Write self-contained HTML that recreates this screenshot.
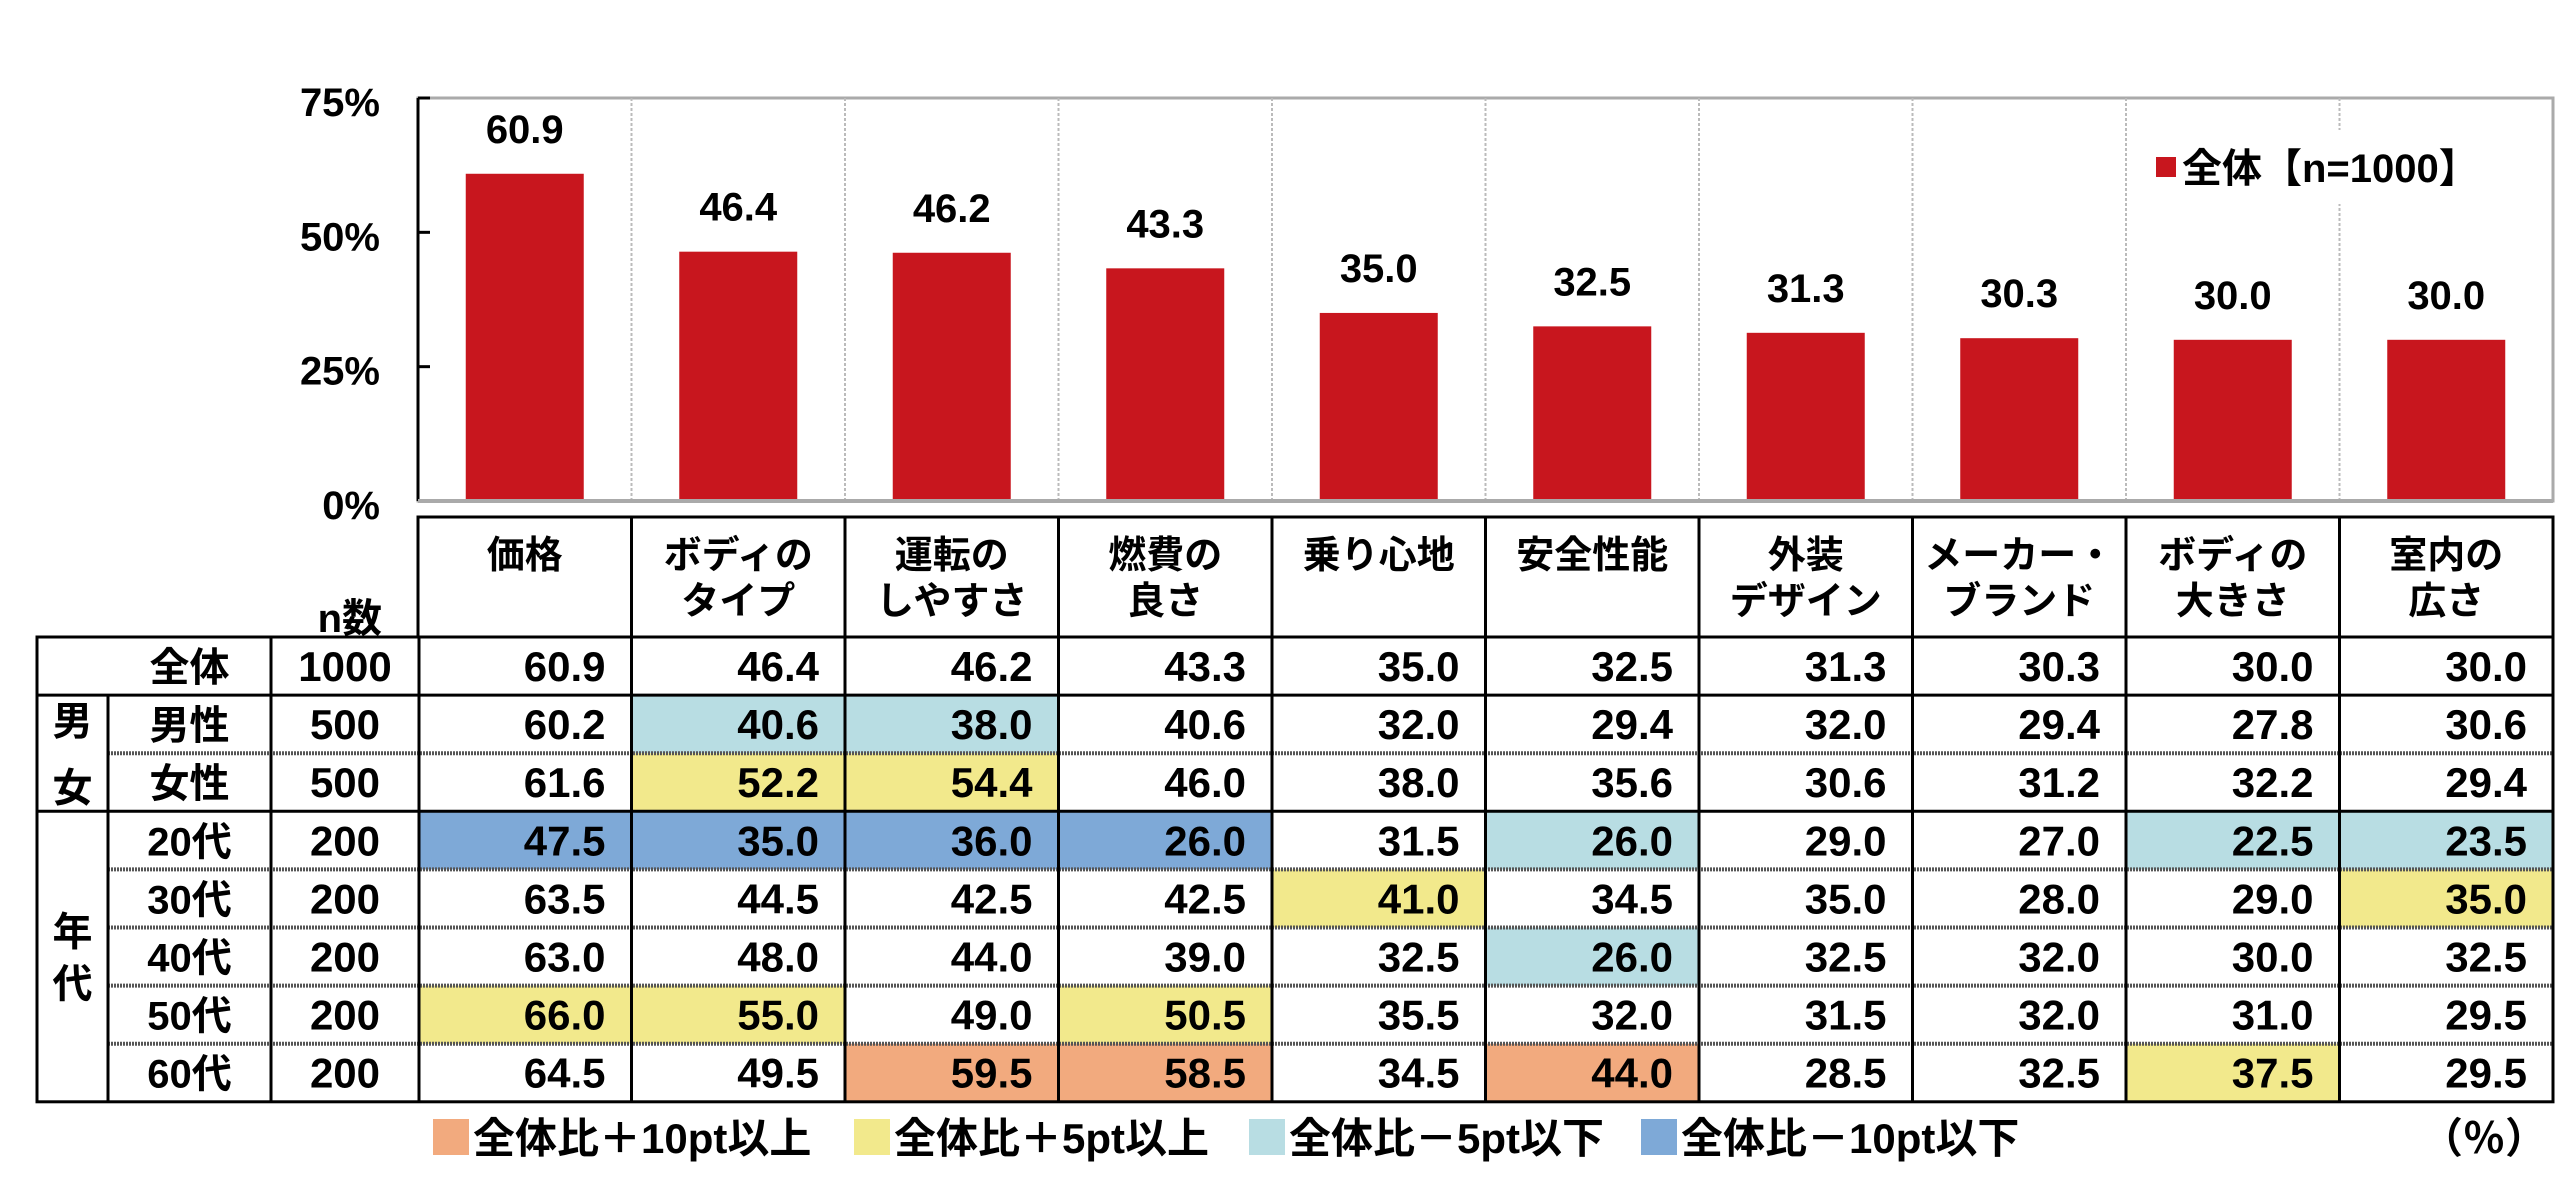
<!DOCTYPE html>
<html><head><meta charset="utf-8"><style>
html,body{margin:0;padding:0;background:#fff;}
svg{display:block;font-family:"Liberation Sans","Noto Sans CJK JP",sans-serif;font-weight:bold;}
</style></head><body>
<svg id="c" width="2560" height="1190" viewBox="0 0 2560 1190" xmlns="http://www.w3.org/2000/svg"></svg>
<script>
const categories=["価格","ボディの|タイプ","運転の|しやすさ","燃費の|良さ","乗り心地","安全性能","外装|デザイン","メーカー・|ブランド","ボディの|大きさ","室内の|広さ"];
const overallValues=[60.9,46.4,46.2,43.3,35.0,32.5,31.3,30.3,30.0,30.0];
const tickValues=[0,25,50,75];
const tickLabels=["0%","25%","50%","75%"];
const rowLabels=["全体","男性","女性","20代","30代","40代","50代","60代"];
const rowN=["1000","500","500","200","200","200","200","200"];
const rowMale=[60.2,40.6,38.0,40.6,32.0,29.4,32.0,29.4,27.8,30.6];
const rowFemale=[61.6,52.2,54.4,46.0,38.0,35.6,30.6,31.2,32.2,29.4];
const row20=[47.5,35.0,36.0,26.0,31.5,26.0,29.0,27.0,22.5,23.5];
const row30=[63.5,44.5,42.5,42.5,41.0,34.5,35.0,28.0,29.0,35.0];
const row40=[63.0,48.0,44.0,39.0,32.5,26.0,32.5,32.0,30.0,32.5];
const row50=[66.0,55.0,49.0,50.5,35.5,32.0,31.5,32.0,31.0,29.5];
const row60=[64.5,49.5,59.5,58.5,34.5,44.0,28.5,32.5,37.5,29.5];
const tableRows=[overallValues,rowMale,rowFemale,row20,row30,row40,row50,row60];
const legendLabels=["全体比＋10pt以上","全体比＋5pt以上","全体比－5pt以下","全体比－10pt以下"];

const svg=document.getElementById('c');
const NS="http://www.w3.org/2000/svg";
function mk(tag,attrs,parent){const e=document.createElementNS(NS,tag);for(const k in attrs)e.setAttribute(k,attrs[k]);(parent||svg).appendChild(e);return e;}
const PL=418,PR=2553,PT=98,PB=501,YMAX=75;
const colW=(PR-PL)/categories.length;
function y(v){return PB-(v/YMAX)*(PB-PT);}
function xc(i){return PL+colW*i+colW/2;}

mk('rect',{x:PL,y:PT,width:PR-PL,height:PB-PT,fill:'#fff',stroke:'#aaa','stroke-width':3});
for(let i=1;i<categories.length;i++){
  const g=mk('line',{x1:PL+colW*i,x2:PL+colW*i,y1:PT,y2:PB,stroke:'#bbb','stroke-width':2,'stroke-dasharray':'3,2'});
  
  
}
mk('line',{x1:PL,x2:PL,y1:PT,y2:PB,stroke:'#000','stroke-width':3});
tickValues.forEach((v,i)=>{
  mk('line',{x1:PL,x2:PL+12,y1:y(v),y2:y(v),stroke:'#000','stroke-width':3});
  const t=mk('text',{x:380,y:y(v)+18,'text-anchor':'end','font-size':40});
  t.textContent=tickLabels[i];
  
  
});
const lg=mk('g',{});


mk('rect',{x:2140,y:130,width:400,height:74,fill:'#fff'},lg);
mk('rect',{x:2156,y:157,width:20,height:20,fill:'#c8161e'},lg);
const lt=mk('text',{x:2182,y:182,'font-size':40},lg);lt.textContent="全体【n=1000】";

overallValues.forEach((v,i)=>{
  const b=mk('rect',{x:xc(i)-59,y:y(v),width:118,height:PB-y(v),fill:'#c8161e'});
  
  
  const t=mk('text',{x:xc(i),y:y(v)-31,'text-anchor':'middle','font-size':40});
  t.textContent=v.toFixed(1);
  
  
});
mk('line',{x1:PL,x2:PR,y1:PB,y2:PB,stroke:'#aaa','stroke-width':4});

const HT=517,HB=637;
mk('rect',{x:PL,y:HT,width:PR-PL,height:HB-HT,fill:'#fff',stroke:'#000','stroke-width':3});
categories.forEach((c,i)=>{
  if(i>0)mk('line',{x1:PL+colW*i,x2:PL+colW*i,y1:HT,y2:HB,stroke:'#000','stroke-width':3});
  c.split('|').forEach((ln,j)=>{
    const t=mk('text',{x:xc(i),y:568+j*46,'text-anchor':'middle','font-size':38});
    t.textContent=ln;
    
    
  });
});
const nl=mk('text',{x:382,y:632,'text-anchor':'end','font-size':40});nl.textContent="n数";



const TL=37,GC=108,LC=271,NC=419,TT=637,RH=58.1;
const colors={o:'#f2aa7e',y:'#f2e98c',lb:'#b8dde3',b:'#7ea9d7'};
function cls(v,base){const d=v-base;if(d>=10)return colors.o;if(d>=5)return colors.y;if(d<=-10)return colors.b;if(d<=-5)return colors.lb;return null;}
tableRows.forEach((row,r)=>{
  const ry=TT+RH*r;
  row.forEach((v,i)=>{
    const f=r>0?cls(v,overallValues[i]):null;
    if(f){const bg=mk('rect',{x:PL+colW*i,y:ry,width:colW,height:RH,fill:f});
      
      }
    const t=mk('text',{x:PL+colW*(i+1)-26,y:ry+44,'text-anchor':'end','font-size':42});
    t.textContent=v.toFixed(1);
    
    
  });
  const l=mk('text',{x:(GC+LC)/2,y:ry+44,'text-anchor':'middle','font-size':40});
  l.textContent=rowLabels[r];
  
  
  const n=mk('text',{x:(LC+NC)/2,y:ry+44,'text-anchor':'middle','font-size':42});
  n.textContent=rowN[r];
  
  
});
const TB=TT+RH*tableRows.length;
[2,4,5,6,7].forEach(r=>{mk('line',{x1:GC,x2:PR,y1:TT+RH*r,y2:TT+RH*r,stroke:'#555','stroke-width':4,'stroke-dasharray':'2,1'});});
[1,3].forEach(r=>{mk('line',{x1:TL,x2:PR,y1:TT+RH*r,y2:TT+RH*r,stroke:'#000','stroke-width':3});});
mk('rect',{x:TL,y:TT,width:PR-TL,height:TB-TT,fill:'none',stroke:'#000','stroke-width':3});
mk('line',{x1:GC,x2:GC,y1:TT+RH,y2:TB,stroke:'#000','stroke-width':3});
[LC,NC].forEach(x=>mk('line',{x1:x,x2:x,y1:TT,y2:TB,stroke:'#000','stroke-width':3}));
for(let i=1;i<categories.length;i++)mk('line',{x1:PL+colW*i,x2:PL+colW*i,y1:TT,y2:TB,stroke:'#000','stroke-width':3});
[["男",TT+RH*1.5-4],["女",TT+RH*2.5+4]].forEach(a=>{const t=mk('text',{x:(TL+GC)/2,y:a[1]+15,'text-anchor':'middle','font-size':40});t.textContent=a[0];
  });
[["年",TT+RH*5.5-26],["代",TT+RH*5.5+26]].forEach(a=>{const t=mk('text',{x:(TL+GC)/2,y:a[1]+15,'text-anchor':'middle','font-size':40});t.textContent=a[0];
  });

const lgx=[433,854,1249,1641];const lgc=[colors.o,colors.y,colors.lb,colors.b];
legendLabels.forEach((s,i)=>{
  const g=mk('g',{});
  
  
  mk('rect',{x:lgx[i],y:1119,width:36,height:36,fill:lgc[i]},g);
  const t=mk('text',{x:lgx[i]+40,y:1153,'font-size':42},g);t.textContent=s;
});
const pc=mk('text',{x:2547,y:1153,'text-anchor':'end','font-size':42});pc.textContent="（％）";


</script>
</body></html>
